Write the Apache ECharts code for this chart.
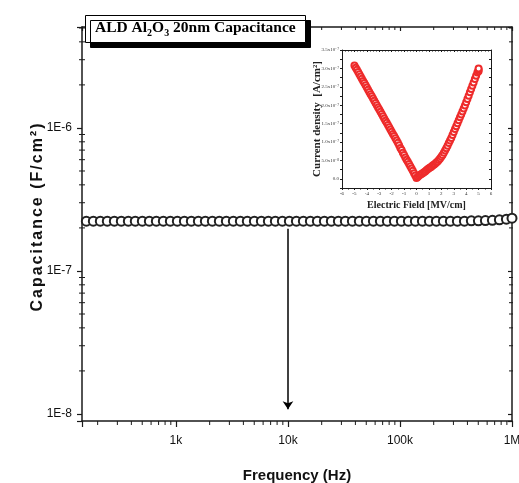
<!DOCTYPE html>
<html>
<head>
<meta charset="utf-8">
<script src="https://cdn.jsdelivr.net/npm/echarts@6/dist/echarts.min.js"></script>
<style>html,body{margin:0;padding:0;background:#fff;overflow:hidden;}#c{width:519px;height:483px;}</style>
</head>
<body>
<div id="c"></div>
<script>
// ---- Main chart data: capacitance vs frequency ----
const frequencies = [158.5,183,211.3,243.9,281.8,325.3,375.8,433.5,501.2,578.8,668.3,771.6,891.3,
  1029,1189,1372,1585,1830,2113,2439,2818,3253,3758,4335,5012,5788,6683,7716,8913,
  10290,11890,13720,15850,18300,21130,24390,28180,32530,37580,43350,50120,57880,66830,77160,89130,
  102900,118900,137200,158500,183000,211300,243900,281800,325300,375800,433500,501200,578800,668300,771600,891300,1000000];
const capacitance = [2.23e-7,2.23e-7,2.23e-7,2.23e-7,2.23e-7,2.23e-7,2.23e-7,2.23e-7,2.23e-7,2.23e-7,2.23e-7,2.23e-7,2.23e-7,
  2.23e-7,2.23e-7,2.23e-7,2.23e-7,2.23e-7,2.23e-7,2.23e-7,2.23e-7,2.23e-7,2.23e-7,2.23e-7,2.23e-7,2.23e-7,2.23e-7,2.23e-7,2.23e-7,
  2.23e-7,2.23e-7,2.23e-7,2.23e-7,2.23e-7,2.23e-7,2.23e-7,2.23e-7,2.23e-7,2.23e-7,2.23e-7,2.23e-7,2.23e-7,2.23e-7,2.23e-7,2.23e-7,
  2.23e-7,2.23e-7,2.23e-7,2.23e-7,2.23e-7,2.23e-7,2.23e-7,2.23e-7,2.23e-7,2.23e-7,2.24e-7,2.24e-7,2.25e-7,2.26e-7,2.28e-7,2.30e-7,2.34e-7];
const arrowFreq = 10000;
const arrowFrom = 1.97e-7;
const arrowTo = 1.08e-8;
const xMinorTicks = [200,300,400,500,600,700,800,900,2000,3000,4000,5000,6000,7000,8000,9000,
  20000,30000,40000,50000,60000,70000,80000,90000,200000,300000,400000,500000,600000,700000,800000,900000];
const yMinorTicks = [2e-8,3e-8,4e-8,5e-8,6e-8,7e-8,8e-8,9e-8,2e-7,3e-7,4e-7,5e-7,6e-7,7e-7,8e-7,9e-7,2e-6,3e-6,4e-6,5e-6];
const xLabels = {'1000':'1k','10000':'10k','100000':'100k','1000000':'1M'};

// ---- Inset data: current density (units of 1e-7 A/cm^2) vs electric field (MV/cm) ----
const fieldValues = [-5.0,-4.9,-4.8,-4.7,-4.6,-4.5,-4.4,-4.3,-4.2,-4.1,-4.0,-3.9,-3.8,-3.7,-3.6,-3.5,-3.4,-3.3,-3.2,-3.1,
  -3.0,-2.9,-2.8,-2.7,-2.6,-2.5,-2.4,-2.3,-2.2,-2.1,-2.0,-1.9,-1.8,-1.7,-1.6,-1.5,-1.4,-1.3,-1.2,-1.1,
  -1.0,-0.9,-0.8,-0.7,-0.6,-0.5,-0.4,-0.3,-0.2,-0.1,0.0,
  0.1,0.2,0.3,0.4,0.5,0.6,0.7,0.8,0.9,1.0,1.1,1.2,1.3,1.4,1.5,1.6,1.7,1.8,1.9,2.0,
  2.1,2.2,2.3,2.4,2.5,2.6,2.7,2.8,2.9,3.0,3.1,3.2,3.3,3.4,3.5,3.6,3.7,3.8,3.9,4.0,
  4.1,4.2,4.3,4.4,4.5,4.6,4.7,4.8,4.9,5.0,5.0,5.0];
const currentValues = [3.08,3.02,2.96,2.90,2.84,2.78,2.72,2.66,2.60,2.54,2.48,2.42,2.36,2.30,2.24,2.18,2.12,2.06,2.00,1.94,
  1.88,1.82,1.76,1.70,1.64,1.58,1.52,1.46,1.40,1.34,1.28,1.22,1.16,1.10,1.04,0.98,0.91,0.84,0.78,0.71,
  0.65,0.58,0.52,0.46,0.40,0.34,0.28,0.22,0.15,0.09,0.02,
  0.05,0.08,0.11,0.13,0.15,0.18,0.20,0.23,0.26,0.29,0.31,0.33,0.36,0.38,0.41,0.44,0.47,0.51,0.55,0.60,
  0.65,0.71,0.77,0.83,0.90,0.97,1.04,1.11,1.19,1.27,1.35,1.43,1.51,1.59,1.67,1.75,1.83,1.91,1.99,2.08,
  2.17,2.26,2.35,2.44,2.53,2.62,2.71,2.80,2.89,2.92,2.96,3.00];

const mainData = frequencies.map((f, i) => [f, capacitance[i]]);
const insetData = fieldValues.map((e, i) => [e, currentValues[i]]);

const AX = '#1a1a1a';
function isPow10(v) { const l = Math.log10(v); return Math.abs(l - Math.round(l)) < 1e-6; }
// letter-spaced rich text (each character its own token, text unchanged)
function spaced(str) { return Array.from(str).map(ch => '{c|' + ch + '}').join(''); }

function minorX(params, api) {
  const p = api.coord([api.value(0), api.value(1)]);
  const cs = params.coordSys;
  const b = cs.y + cs.height, t = cs.y;
  return { type: 'group', children: [
    { type: 'line', shape: { x1: p[0], y1: b, x2: p[0], y2: b + 4 }, style: { stroke: AX, lineWidth: 1 } },
    { type: 'line', shape: { x1: p[0], y1: t, x2: p[0], y2: t + 3 }, style: { stroke: AX, lineWidth: 1 } }
  ]};
}
function minorY(params, api) {
  const p = api.coord([api.value(0), api.value(1)]);
  const cs = params.coordSys;
  const l = cs.x, r = cs.x + cs.width;
  return { type: 'group', children: [
    { type: 'line', shape: { x1: l - 3, y1: p[1], x2: l + 3, y2: p[1] }, style: { stroke: AX, lineWidth: 1 } },
    { type: 'line', shape: { x1: r - 3, y1: p[1], x2: r + 1, y2: p[1] }, style: { stroke: AX, lineWidth: 1 } }
  ]};
}

const chart = echarts.init(document.getElementById('c'), null, { renderer: 'canvas' });
const serif = '"Liberation Serif", "Times New Roman", serif';
const sans = '"Liberation Sans", Arial, sans-serif';

chart.setOption({
  backgroundColor: '#fff',
  animation: false,
  title: {
    left: 85, top: 13,
    padding: [5, 10, 5, 10],
    backgroundColor: '#fff',
    borderColor: '#000', borderWidth: 1,
    shadowColor: '#000', shadowBlur: 0, shadowOffsetX: 5, shadowOffsetY: 5,
    text: '{t|ALD Al}{s|2}{t|O}{s|3}{t| 20nm Capacitance}',
    textStyle: {
      rich: {
        t: { fontFamily: serif, fontWeight: 'bold', fontSize: 15.5, color: '#000', lineHeight: 20 },
        s: { fontFamily: serif, fontWeight: 'bold', fontSize: 10, color: '#000', padding: [10, 0, 0, 0] }
      }
    },
    z: 20
  },
  grid: [
    { left: 82, right: 7, top: 27, bottom: 62, containLabel: false, outerBoundsMode: 'none' },
    { left: 342, right: 28, top: 50, bottom: 295, containLabel: false, outerBoundsMode: 'none' }
  ],
  xAxis: [
    { type: 'log', gridIndex: 0, min: 145, max: 1000000, position: 'bottom',
      name: 'Frequency (Hz)', nameLocation: 'middle', nameGap: 47, nameMoveOverlap: false,
      nameTextStyle: { fontFamily: sans, fontWeight: 'bold', fontSize: 15, color: '#111' },
      axisLine: { lineStyle: { color: AX, width: 1.5 } },
      axisTick: { show: true, length: 6, lineStyle: { color: AX, width: 1.2 } },
      axisLabel: { margin: 14, fontFamily: sans, fontSize: 12, color: '#111',
        formatter: v => isPow10(v) ? (xLabels[String(Math.round(v))] || '') : '' },
      splitLine: { show: false }, minorTick: { show: false } },
    { type: 'log', gridIndex: 0, min: 145, max: 1000000, position: 'top',
      axisLine: { lineStyle: { color: AX, width: 1.5 } },
      axisTick: { show: true, inside: true, length: 4, lineStyle: { color: AX, width: 1.2 } },
      axisLabel: { show: false }, splitLine: { show: false } },
    { type: 'value', gridIndex: 1, min: -6, max: 6, interval: 1, position: 'bottom',
      name: 'Electric Field [MV/cm]', nameLocation: 'middle', nameGap: 12, nameMoveOverlap: false,
      nameTextStyle: { fontFamily: serif, fontWeight: 'bold', fontSize: 10, color: '#222' },
      axisLine: { onZero: false, lineStyle: { color: AX, width: 1 } },
      axisTick: { length: 2, lineStyle: { color: AX } },
      minorTick: { show: true, splitNumber: 2, length: 1.5, lineStyle: { color: AX } },
      axisLabel: { margin: 3, fontFamily: serif, fontSize: 5, color: '#333' },
      splitLine: { show: false } },
    { type: 'value', gridIndex: 1, min: -6, max: 6, interval: 1, position: 'top',
      axisLine: { onZero: false, lineStyle: { color: AX, width: 1 } },
      axisTick: { inside: true, length: 2, lineStyle: { color: AX } },
      minorTick: { show: true, splitNumber: 4, length: 1.5, lineStyle: { color: AX } },
      axisLabel: { show: false }, splitLine: { show: false } }
  ],
  yAxis: [
    { type: 'log', gridIndex: 0, min: 8.93e-9, max: 5.08e-6, position: 'left',
      name: spaced('Capacitance (F/cm²)'), nameLocation: 'middle', nameGap: 36, nameMoveOverlap: false,
      nameTextStyle: { padding: [0, 0, 0, 13], rich: { c: { fontFamily: sans, fontWeight: 'bold', fontSize: 16, color: '#111', padding: [0, 1, 0, 1] } } },
      axisLine: { lineStyle: { color: AX, width: 1.5 } },
      axisTick: { show: true, length: 5, lineStyle: { color: AX, width: 1.2 } },
      axisLabel: { margin: 10, fontFamily: sans, fontSize: 12, color: '#111',
        formatter: v => isPow10(v) ? ('1E' + Math.round(Math.log10(v))) : '' },
      splitLine: { show: false } },
    { type: 'log', gridIndex: 0, min: 8.93e-9, max: 5.08e-6, position: 'right',
      axisLine: { lineStyle: { color: AX, width: 1.5 } },
      axisTick: { show: true, inside: true, length: 4, lineStyle: { color: AX, width: 1.2 } },
      axisLabel: { show: false }, splitLine: { show: false } },
    { type: 'value', gridIndex: 1, min: -0.25, max: 3.5, interval: 0.25, position: 'left',
      name: 'Current density  [A/cm²]', nameLocation: 'middle', nameGap: 19, nameMoveOverlap: false,
      nameTextStyle: { fontFamily: serif, fontWeight: 'bold', fontSize: 11, color: '#222' },
      axisLine: { onZero: false, lineStyle: { color: AX, width: 1 } },
      axisTick: { length: 2, lineStyle: { color: AX } },
      axisLabel: { margin: 3, fontFamily: serif, fontSize: 5, color: '#333',
        formatter: v => {
          const k = Math.round(v * 4);
          if (k < 0 || k % 2 !== 0) return '';
          if (k === 0) return '0.0';
          if (v < 1) return (v * 10).toFixed(1) + 'x10⁻⁸';
          return v.toFixed(1) + 'x10⁻⁷';
        } },
      splitLine: { show: false } },
    { type: 'value', gridIndex: 1, min: -0.25, max: 3.5, interval: 0.25, position: 'right',
      axisLine: { onZero: false, lineStyle: { color: AX, width: 1 } },
      axisTick: { inside: true, length: 2, lineStyle: { color: AX } },
      axisLabel: { show: false }, splitLine: { show: false } }
  ],
  series: [
    { type: 'line', xAxisIndex: 0, yAxisIndex: 0, data: mainData,
      symbol: 'emptyCircle', symbolSize: 9, showAllSymbol: true,
      lineStyle: { width: 0, opacity: 0 },
      itemStyle: { color: '#222', borderWidth: 1 },
      markLine: { silent: true, symbol: ['none', 'arrow'], symbolSize: 8,
        label: { show: false },
        lineStyle: { color: '#000', width: 1.5, type: 'solid' },
        data: [[{ coord: [arrowFreq, arrowFrom] }, { coord: [arrowFreq, arrowTo] }]] },
      z: 3 },
    { type: 'custom', xAxisIndex: 0, yAxisIndex: 0, silent: true,
      data: xMinorTicks.map(v => [v, 1e-7]), renderItem: minorX, z: 4 },
    { type: 'custom', xAxisIndex: 0, yAxisIndex: 0, silent: true,
      data: yMinorTicks.map(v => [1000, v]), renderItem: minorY, z: 4 },
    { type: 'line', xAxisIndex: 2, yAxisIndex: 2, data: insetData,
      symbol: 'emptyCircle', symbolSize: 6, showAllSymbol: true,
      lineStyle: { width: 0, opacity: 0 },
      itemStyle: { color: '#ee2b2b', borderWidth: 1 },
      z: 5 }
  ]
});
</script>
</body>
</html>
